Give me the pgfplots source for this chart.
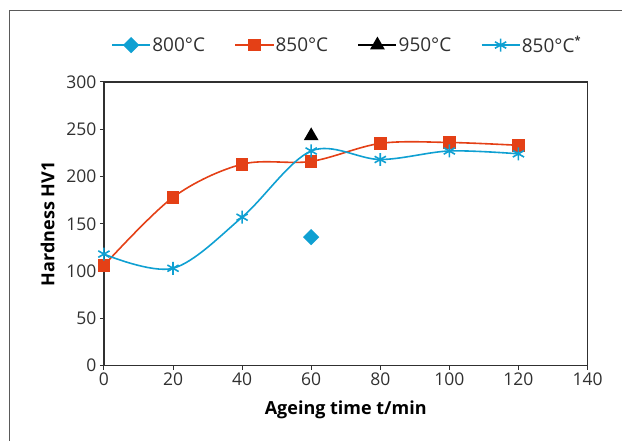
\documentclass[border=0pt]{standalone}
\usepackage{pgfplots}
\pgfplotsset{compat=1.18}
\usepackage{fontspec}
\setmainfont{Open Sans}
\definecolor{cOr}{HTML}{E44016}
\definecolor{cBl}{HTML}{0FA0D2}
\definecolor{cAx}{HTML}{303030}
\begin{document}
\begin{tikzpicture}[x=1pt,y=1pt]
\path (0,0) rectangle (622,441);
\draw[line width=1pt, cAx!80] (10,0) -- (10,430) -- (622,430);
\begin{axis}[
  at={(104pt,75pt)}, anchor=south west,
  scale only axis, width=484pt, height=284pt,
  xmin=0, xmax=140, ymin=0, ymax=300,
  xtick={0,20,...,140}, ytick={0,50,...,300},
  tick align=outside, xtick pos=bottom, ytick pos=left,
  major tick length=4pt,
  tick style={cAx, line width=1pt},
  axis line style={cAx, line width=1.2pt},
  /pgf/number format/assume math mode=true,
  ticklabel style={font=\fontsize{17.5}{20}\selectfont, text=cAx},
  xlabel={Ageing time t/min},
  ylabel={Hardness HV1},
  label style={font=\fontsize{18}{20}\selectfont\bfseries},
  xlabel style={yshift=-8pt},
  ylabel style={yshift=5pt},
  legend columns=4,
  legend style={at={(0.502,1.13)}, anchor=center, draw=none, fill=none,
    font=\fontsize{19}{22}\selectfont, text=cAx,
    nodes={inner sep=1.5pt},
    /tikz/every even column/.append style={column sep=28pt}},
  legend image code/.code={
    \draw[#1, mark repeat=2, mark phase=2] plot coordinates {(0pt,0pt) (19pt,0pt) (38pt,0pt)};},
]
\addplot[cBl, line width=1.5pt, mark=square*, mark size=5pt, mark options={solid, fill=cBl, rotate=45}] coordinates {(60,136)};
\addlegendentry{800°C}
\addplot[cOr, line width=1.6pt, smooth, tension=0.55, mark=square*, mark size=5.5pt, mark options={fill=cOr}] coordinates {
(0,106) (20,178) (40,213) (60,216) (80,235) (100,236) (120,233)};
\addlegendentry{850°C}
\addplot[black, line width=1.5pt, mark=triangle*, mark size=7pt, mark options={fill=black}] coordinates {(60,243)};
\addlegendentry{950°C}
\addplot[cBl, line width=1.6pt, smooth, tension=0.55, mark=asterisk, mark size=6.5pt, mark options={line width=1.6pt}] coordinates {
(0,118) (20,103) (40,157) (60,227) (80,218) (100,227) (120,224)};
\addlegendentry{850°C\raisebox{0.45em}{\fontsize{11}{12}\selectfont\bfseries*}}
\end{axis}
\end{tikzpicture}
\end{document}
